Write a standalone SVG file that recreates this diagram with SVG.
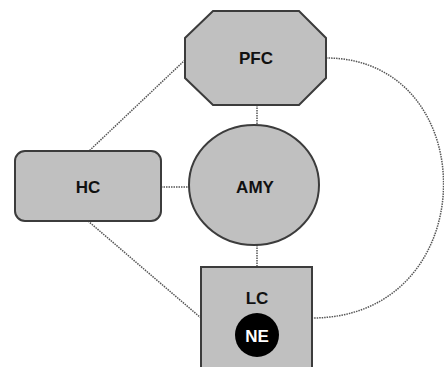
<svg xmlns="http://www.w3.org/2000/svg" width="444" height="367" viewBox="0 0 444 367">
<style>
.node{fill:#c0c0c0;stroke:#3c3c3c;stroke-width:2}
.conn{fill:none;stroke:#555;stroke-width:1.5;stroke-dasharray:1.5,1}
.lbl{font-family:"Liberation Sans",Arial,sans-serif;font-weight:bold;font-size:17px;fill:#111;text-anchor:middle}
</style>
<rect width="444" height="367" fill="#fff"/>
<g id="connectors">
<line class="conn" x1="185" y1="60" x2="89" y2="151"/>
<line class="conn" x1="161" y1="187" x2="189" y2="187"/>
<line class="conn" x1="88" y1="221" x2="201" y2="318"/>
<line class="conn" x1="257" y1="105" x2="257" y2="125"/>
<line class="conn" x1="257" y1="245" x2="257" y2="267"/>
<path class="conn" d="M326,58 C485,58 485,318 312,318"/>
</g>
<g id="PFC">
<polygon class="node" points="213,11 299,11 326,38 326,78 299,105 213,105 185,78 185,38"/>
<text class="lbl" x="256" y="64">PFC</text>
</g>
<g id="HC">
<rect class="node" x="15" y="151" width="146" height="70" rx="10"/>
<text class="lbl" x="88" y="193">HC</text>
</g>
<g id="AMY">
<ellipse class="node" cx="254" cy="185" rx="65" ry="60"/>
<text class="lbl" x="255" y="193">AMY</text>
</g>
<g id="LC">
<rect class="node" x="201" y="267" width="111" height="110"/>
<text class="lbl" x="257" y="304">LC</text>
<circle cx="257" cy="335" r="22" fill="#000"/>
<text class="lbl" x="257" y="342" style="fill:#fff">NE</text>
</g>
</svg>
